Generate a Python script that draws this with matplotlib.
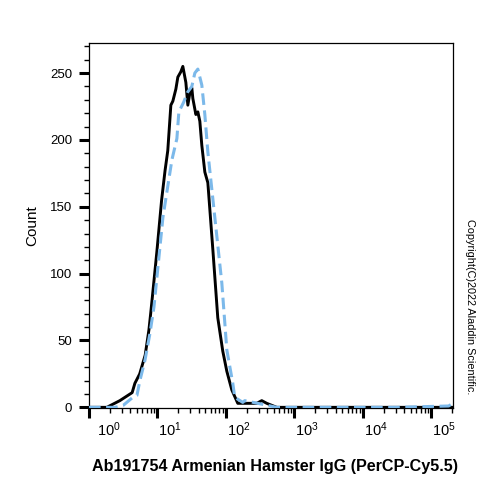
"""Flow histogram: Ab191754 Armenian Hamster IgG (PerCP-Cy5.5) vs isotype overlay."""

import matplotlib
matplotlib.use("Agg")
import matplotlib.pyplot as plt
import matplotlib.transforms as mtransforms
from matplotlib.ticker import LogLocator, NullFormatter, MultipleLocator
import numpy as np

# ── Data (x in log10 decades, y in counts) ──────────────────────────────────
black_log_x = [0.00, 0.26, 0.45, 0.63, 0.67, 0.74, 0.82, 0.875, 0.90, 0.92,
               0.99, 1.06, 1.11, 1.15, 1.195, 1.224, 1.268, 1.297, 1.341, 1.370,
               1.414, 1.443, 1.472, 1.501, 1.516, 1.560, 1.589, 1.618, 1.647,
               1.691, 1.735, 1.808, 1.880, 1.953, 2.012, 2.085, 2.172, 2.449,
               2.522, 2.595, 2.741, 3.20, 3.80, 4.40, 5.00, 5.314]
black_counts = [0, 0, 5, 11, 18, 25, 39, 58, 70, 80,
                116, 155, 177, 192, 226, 229, 238, 247, 251, 255,
                243, 226, 235, 239, 231, 219, 221, 214, 196,
                176, 168, 118, 67, 42, 27, 13, 3, 3,
                5, 3, 0, 0, 0, 0, 0, 0]

blue_log_x = [0.00, 0.20, 0.38, 0.50, 0.64, 0.70, 0.743, 0.816, 0.889, 0.948,
              1.079, 1.210, 1.283, 1.312, 1.38, 1.443, 1.501, 1.545, 1.589,
              1.647, 1.691, 1.735, 1.837, 1.939, 2.012, 2.099, 2.128, 2.245,
              2.274, 2.464, 2.741, 3.50, 4.50, 5.25, 5.314]
blue_counts = [0, 0, 0, 1.5, 7.5, 9, 20, 35, 55, 75,
               142, 185, 201, 221, 228, 236, 240, 250, 253,
               241, 219, 191, 142, 93, 43, 18, 7.5, 3.7,
               5, 3, 0, 0, 0, 1, 3]

x_decades = [0, 1, 2, 3, 4, 5]
x_label = "Ab191754 Armenian Hamster IgG (PerCP-Cy5.5)"
y_label = "Count"
copyright_text = "Copyright(C)2022 Aladdin Scientific."

BLACK = "#000000"
BLUE = "#7cb9ea"

plt.rcParams["font.family"] = ["Liberation Sans", "DejaVu Sans"]
plt.rcParams["mathtext.fontset"] = "custom"
plt.rcParams["mathtext.rm"] = "Liberation Sans"
plt.rcParams["mathtext.it"] = "Liberation Sans"

fig = plt.figure(figsize=(5, 5), dpi=100)
ax = fig.add_axes([0.178, 0.184, 0.728, 0.730])

ax.plot(10 ** np.array(black_log_x), black_counts, color=BLACK, lw=2.1,
        solid_joinstyle="round", zorder=3)
ax.plot(10 ** np.array(blue_log_x), blue_counts, color=BLUE, lw=2.2,
        dashes=(3.8, 1.8), zorder=4)

ax.set_xscale("log")
ax.set_xlim(1, 10 ** 5.314)
ax.set_ylim(-0.5, 272.5)

# ── Ticks ────────────────────────────────────────────────────────────────
ax.xaxis.set_minor_locator(LogLocator(base=10, subs=np.arange(2, 10), numticks=20))
ax.xaxis.set_minor_formatter(NullFormatter())
ax.set_xticks([10 ** d for d in x_decades])
ax.set_xticklabels([f"$10^{{{d}}}$" for d in x_decades], fontsize=10.5)

ax.yaxis.set_major_locator(MultipleLocator(50))
ax.yaxis.set_minor_locator(MultipleLocator(10))
ax.tick_params(axis="both", which="major", direction="out", length=7, width=2.2)
ax.tick_params(axis="both", which="minor", direction="out", length=3.5, width=1.0)
ax.tick_params(axis="x", which="major", pad=2)
ax.tick_params(axis="y", which="major", pad=5, labelsize=9.5)

# labels sit to the right of their ticks
for i, lab in enumerate(ax.get_xticklabels()):
    dx = 8 if i == 0 else 1
    lab.set_horizontalalignment("left")
    lab.set_transform(lab.get_transform() +
                      mtransforms.ScaledTranslation(dx / 100, 0, fig.dpi_scale_trans))

for side in ["top", "right", "bottom", "left"]:
    ax.spines[side].set_linewidth(0.9)

ax.set_ylabel(y_label, fontsize=11, labelpad=8)
fig.text(0.55, 0.066, x_label, ha="center", va="center",
         fontsize=11.6, fontweight="bold")
fig.text(0.94, 0.386, copyright_text, rotation=270, ha="center", va="center",
         fontsize=7.8)

fig.savefig("out.png", dpi=100)
